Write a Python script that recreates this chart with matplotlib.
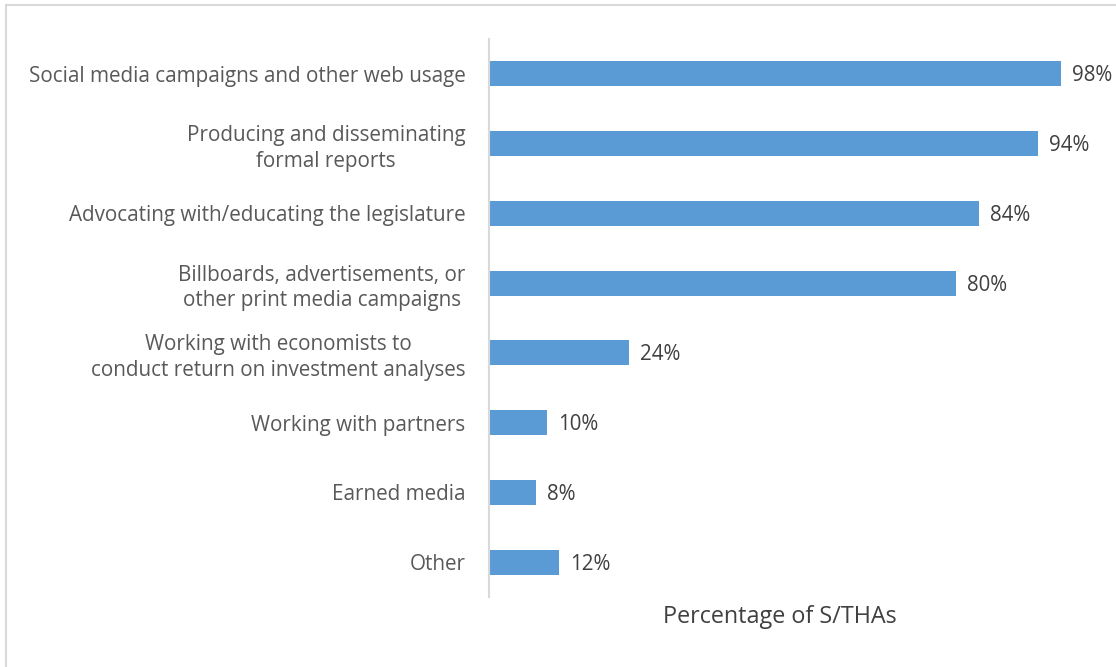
import matplotlib
matplotlib.use('Agg')
import matplotlib.pyplot as plt
from matplotlib.patches import Rectangle

# Kategorien (von oben nach unten) und Anteile in Prozent
categories = [
    'Social media campaigns and other web usage',
    'Producing and disseminating\nformal reports',
    'Advocating with/educating the legislature',
    'Billboards, advertisements, or\nother print media campaigns',
    'Working with economists to\nconduct return on investment analyses',
    'Working with partners',
    'Earned media',
    'Other',
]
values = [98, 94, 84, 80, 24, 10, 8, 12]

bar_color = '#5b9bd5'
label_color = '#595959'
value_color = '#404040'
plt.rcParams['font.family'] = ['Open Sans', 'DejaVu Sans']

fig = plt.figure(figsize=(11.16, 6.67), dpi=100)

# Rahmen um das Diagramm (rechts und unten abgeschnitten)
fig.patches.append(Rectangle((6 / 1116, -0.05), 1.2, 1 - 5 / 667 + 0.05,
                             transform=fig.transFigure, fill=False,
                             edgecolor='#d9d9d9', linewidth=1.5))

ax = fig.add_axes([489 / 1116, 1 - 597 / 667, 583.7 / 1116, 558 / 667])
y = list(range(len(categories)))
ax.barh(y, values, height=0.36, color=bar_color)
ax.set_xlim(0, 100)
ax.set_ylim(len(categories) - 0.5, -0.5)

# Werte rechts neben den Balken
for yi, v in zip(y, values):
    ax.text(v + 1.9, yi + 0.03, f'{v}%', va='center', ha='left',
            fontsize=14.8, color=value_color)

ax.set_yticks(y)
ax.set_yticklabels(categories, fontsize=14.9, color=label_color, ha='right',
                   multialignment='center', linespacing=1.3)
ax.tick_params(axis='y', length=0, pad=17)
ax.set_xticks([])

for side in ['top', 'right', 'bottom']:
    ax.spines[side].set_visible(False)
ax.spines['left'].set_color('#d9d9d9')
ax.spines['left'].set_linewidth(1.5)

fig.text(780 / 1116, 1 - 617 / 667, 'Percentage of S/THAs', ha='center',
         va='center', fontsize=16.8, color=value_color)

fig.savefig('out.png', dpi=100)
